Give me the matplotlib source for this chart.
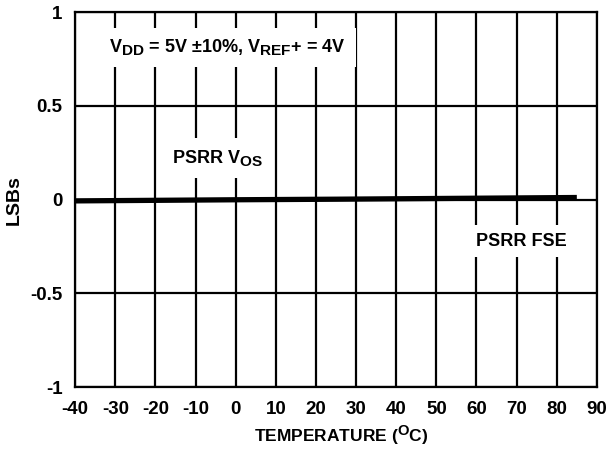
import matplotlib
matplotlib.use("Agg")
import matplotlib.pyplot as plt
import matplotlib._mathtext as mt

plt.rcParams['font.family'] = ['Liberation Sans', 'DejaVu Sans']
plt.rcParams['font.weight'] = 'bold'
plt.rcParams['axes.unicode_minus'] = False
plt.rcParams['mathtext.fontset'] = 'custom'
plt.rcParams['mathtext.rm'] = 'Liberation Sans:bold'
plt.rcParams['mathtext.it'] = 'Liberation Sans:bold'
plt.rcParams['mathtext.bf'] = 'Liberation Sans:bold'
plt.rcParams['mathtext.default'] = 'rm'
# bigger subscripts, like the datasheet lettering
mt.SHRINK_FACTOR = 0.85

# data
temps = [-40, 0, 25, 85]
lsbs = [-0.007, -0.001, 0.002, 0.011]

x_ticks = list(range(-40, 91, 10))
y_ticks = [-1, -0.5, 0, 0.5, 1]
y_labels = ['-1', '-0.5', '0', '0.5', '1']

fig = plt.figure(figsize=(6.16, 4.5), dpi=100)
ax = fig.add_axes([0.122, 0.14, 0.847, 0.833])

ax.set_xlim(-40, 90)
ax.set_ylim(-1, 1)
ax.set_xticks(x_ticks)
ax.set_yticks(y_ticks)
ax.set_yticklabels(y_labels)
ax.tick_params(length=0, labelsize=13.5)
ax.tick_params(axis='y', pad=9)
ax.tick_params(axis='x', pad=10)
ax.grid(True, color='black', linewidth=1.6)
for s in ax.spines.values():
    s.set_linewidth(1.6)

ax.plot(temps, lsbs, color='black', linewidth=3.8, solid_capstyle='butt', zorder=3)

ax.text(-2, 0.786, r'V$_{DD}$ = 5V $\pm$10%, V$_{REF}$+ = 4V', fontsize=13,
        ha='center', va='baseline', zorder=4,
        bbox=dict(facecolor='white', edgecolor='none', pad=7))
ax.text(-4.5, 0.195, r'PSRR V$_{OS}$', fontsize=13, ha='center', va='baseline',
        zorder=4, bbox=dict(facecolor='white', edgecolor='none', pad=7))
ax.text(71.3, -0.246, 'PSRR FSE', fontsize=13, ha='center', va='baseline',
        zorder=4, bbox=dict(facecolor='white', edgecolor='none', pad=5.5))

ax.set_xlabel(r'TEMPERATURE ($^{O}$C)', fontsize=12.5, fontweight='bold')
ax.xaxis.set_label_coords(0.51, -0.098)
ax.set_ylabel('LSBs', fontsize=14, fontweight='bold')
ax.yaxis.set_label_coords(-0.1, 0.5)

fig.savefig('out.png', dpi=100)
